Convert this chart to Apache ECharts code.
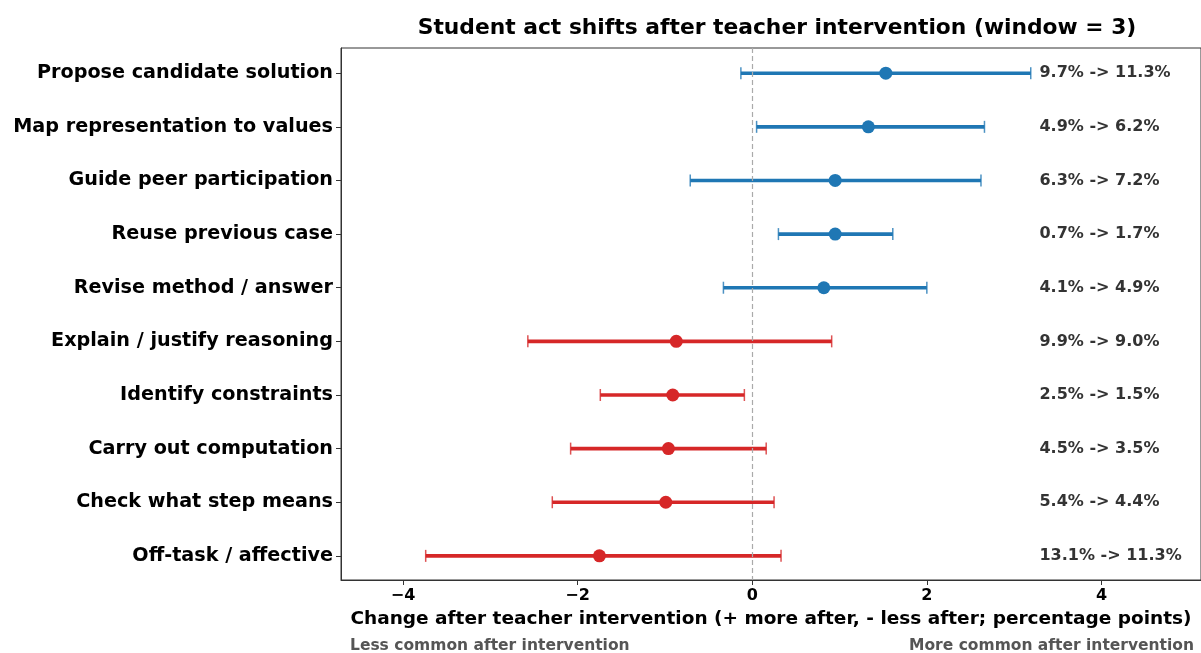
<!DOCTYPE html>
<html>
<head>
<meta charset="utf-8">
<title>Student act shifts</title>
<script src="https://cdn.jsdelivr.net/npm/echarts@6/dist/echarts.min.js"></script>
<style>
  html, body { margin: 0; padding: 0; background: #fff; }
  #chart { width: 1201px; height: 653px; }
</style>
</head>
<body>
<div id="chart"></div>
<script>
// data (percentage points)
var categories = [
  'Propose candidate solution',
  'Map representation to values',
  'Guide peer participation',
  'Reuse previous case',
  'Revise method / answer',
  'Explain / justify reasoning',
  'Identify constraints',
  'Carry out computation',
  'Check what step means',
  'Off-task / affective'
];
var change = [1.53, 1.33, 0.95, 0.95, 0.82, -0.87, -0.91, -0.96, -0.99, -1.75];
var ciLow = [-0.13, 0.05, -0.71, 0.30, -0.33, -2.57, -1.74, -2.08, -2.29, -3.74];
var ciHigh = [3.19, 2.66, 2.62, 1.61, 2.00, 0.91, -0.09, 0.16, 0.25, 0.33];
var shiftText = [
  '9.7% -> 11.3%', '4.9% -> 6.2%', '6.3% -> 7.2%', '0.7% -> 1.7%', '4.1% -> 4.9%',
  '9.9% -> 9.0%', '2.5% -> 1.5%', '4.5% -> 3.5%', '5.4% -> 4.4%', '13.1% -> 11.3%'
];
var xTicks = [-4, -2, 0, 2, 4];

var BLUE = '#1f77b4';
var RED = '#d62728';
var FONT = 'DejaVu Sans';

function colorOf(i) {
  return change[i] >= 0 ? BLUE : RED;
}

var idx = categories.map(function (c, i) { return i; });

var chart = echarts.init(document.getElementById('chart'));

chart.setOption({
  animation: false,
  title: {
    text: 'Student act shifts after teacher intervention (window = 3)',
    left: 772,
    textAlign: 'center',
    top: 12,
    textStyle: { fontFamily: FONT, fontSize: 21.8, fontWeight: 'bold', color: '#000' }
  },
  grid: {
    left: 341,
    right: -2,
    top: 48,
    bottom: 73,
    show: true,
    borderColor: '#333',
    borderWidth: 1
  },
  xAxis: {
    type: 'value',
    min: -4.71,
    max: 5.14,
    name: 'Change after teacher intervention (+ more after, - less after; percentage points)',
    nameLocation: 'middle',
    nameGap: 30,
    nameTextStyle: { fontFamily: FONT, fontSize: 18.5, fontWeight: 'bold', color: '#000' },
    splitLine: { show: false },
    axisLine: { show: true, onZero: false, lineStyle: { color: '#333' } },
    axisTick: { show: true, customValues: xTicks, length: 5, lineStyle: { color: '#333' } },
    axisLabel: {
      customValues: xTicks,
      margin: 8,
      fontFamily: FONT,
      fontSize: 16,
      fontWeight: 'bold',
      color: '#000',
      formatter: function (v) { return String(v).replace('-', '\u2212'); }
    }
  },
  yAxis: {
    type: 'value',
    inverse: true,
    min: -0.47,
    max: 9.45,
    splitLine: { show: false },
    axisLine: { show: true, onZero: false, lineStyle: { color: '#333' } },
    axisTick: { show: true, customValues: idx, length: 5, lineStyle: { color: '#333' } },
    axisLabel: {
      customValues: idx,
      margin: 8,
      fontFamily: FONT,
      fontSize: 19.2,
      fontWeight: 'bold',
      color: '#000',
      formatter: function (v) { return categories[Math.round(v)] || ''; }
    }
  },
  graphic: [
    {
      type: 'text', left: 350, top: 638,
      style: { text: 'Less common after intervention', fontFamily: FONT, fontSize: 15.5, fontWeight: 'bold', fill: '#555' }
    },
    {
      type: 'text', right: 7, top: 638,
      style: { text: 'More common after intervention', fontFamily: FONT, fontSize: 15.5, fontWeight: 'bold', fill: '#555' }
    }
  ],
  series: [
    {
      type: 'custom',
      name: 'ci',
      data: idx.map(function (i) { return [ciLow[i], ciHigh[i], i]; }),
      renderItem: function (params, api) {
        var i = api.value(2);
        var a = api.coord([api.value(0), i]);
        var b = api.coord([api.value(1), i]);
        var col = colorOf(i);
        var cap = 6;
        return {
          type: 'group',
          children: [
            { type: 'line', shape: { x1: a[0], y1: a[1], x2: b[0], y2: b[1] }, style: { stroke: col, lineWidth: 3.6 } },
            { type: 'line', shape: { x1: a[0], y1: a[1] - cap, x2: a[0], y2: a[1] + cap }, style: { stroke: col, lineWidth: 1.5, opacity: 0.8 } },
            { type: 'line', shape: { x1: b[0], y1: b[1] - cap, x2: b[0], y2: b[1] + cap }, style: { stroke: col, lineWidth: 1.5, opacity: 0.8 } }
          ]
        };
      },
      markLine: {
        silent: true,
        symbol: 'none',
        label: { show: false },
        lineStyle: { color: '#aaa', type: [5, 3], width: 1.2 },
        data: [{ xAxis: 0 }]
      },
      z: 2
    },
    {
      type: 'scatter',
      name: 'change',
      symbol: 'circle',
      symbolSize: 13,
      itemStyle: { opacity: 1 },
      data: idx.map(function (i) {
        return { value: [change[i], i], itemStyle: { color: colorOf(i), opacity: 1 } };
      }),
      z: 3
    },
    {
      type: 'scatter',
      name: 'labels',
      symbolSize: 0,
      silent: true,
      itemStyle: { opacity: 1 },
      data: idx.map(function (i) { return [3.29, i]; }),
      label: {
        show: true,
        position: 'right',
        distance: 0,
        fontFamily: FONT,
        fontSize: 16,
        fontWeight: 'bold',
        color: '#333',
        opacity: 1,
        formatter: function (p) { return shiftText[p.dataIndex]; }
      },
      z: 4
    }
  ]
});
</script>
</body>
</html>
